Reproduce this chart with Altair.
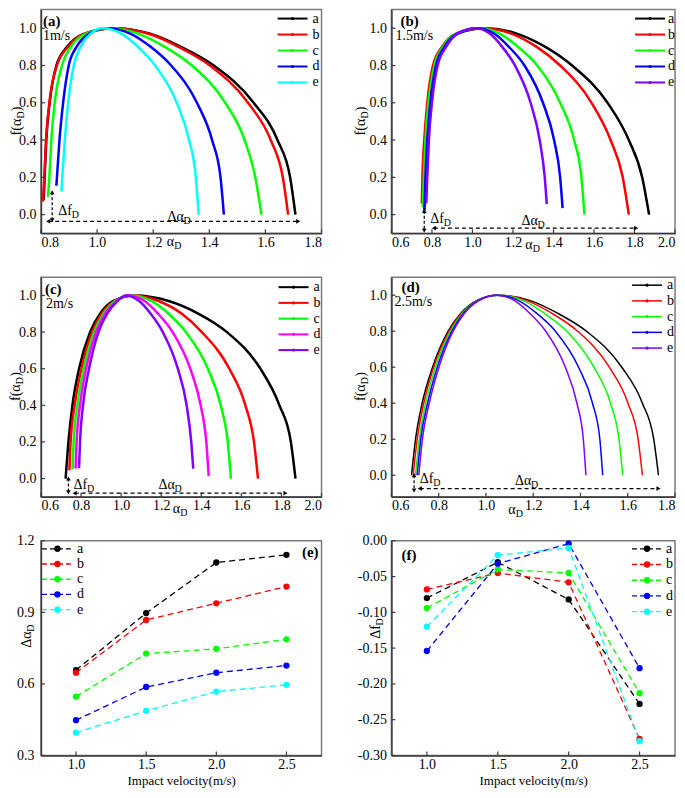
import altair as alt
import pandas as pd

FONT = "Liberation Serif, Times New Roman, serif"
AXC = "#3a3a3a"
SERIES = ["a", "b", "c", "d", "e"]

COLORS_A = ["#000000", "#ff0000", "#00ff00", "#0000ff", "#00ffff"]
COLORS_B = ["#000000", "#ff0000", "#00ff00", "#0000ff", "#8000ff"]
COLORS_C = ["#000000", "#ff0000", "#00ff00", "#ff00ff", "#8000ff"]
COLORS_D = ["#000000", "#ff0000", "#00ff00", "#0000ff", "#8000ff"]
COLORS_EF = ["#000000", "#ff0000", "#00ff00", "#0000ff", "#00ffff"]

X_TICKS_A = [0.8, 1.0, 1.2, 1.4, 1.6, 1.8]
X_TICKS_BC = [0.6, 0.8, 1.0, 1.2, 1.4, 1.6, 1.8, 2.0]
X_TICKS_D = [0.6, 0.8, 1.0, 1.2, 1.4, 1.6, 1.8]
Y_TICKS_SPEC = [0.0, 0.2, 0.4, 0.6, 0.8, 1.0]
VELOCITY = [1.0, 1.5, 2.0, 2.5]
Y_TICKS_E = [0.3, 0.6, 0.9, 1.2]
Y_TICKS_F = [-0.30, -0.25, -0.20, -0.15, -0.10, -0.05, 0.00]

# ---------------- (a) 1 m/s ----------------
PA_ALPHA_a = [0.810, 0.813, 0.819, 0.831, 0.855, 0.893, 0.953, 1.060, 1.189, 1.299, 1.416, 1.558, 1.643, 1.688, 1.707]
PA_F_a = [0.080, 0.20, 0.40, 0.60, 0.80, 0.90, 0.97, 1.00, 0.97, 0.90, 0.80, 0.60, 0.40, 0.20, 0.000]
PA_ALPHA_b = [0.807, 0.812, 0.818, 0.830, 0.857, 0.897, 0.955, 1.060, 1.184, 1.290, 1.402, 1.538, 1.619, 1.662, 1.681]
PA_F_b = [0.070, 0.20, 0.40, 0.60, 0.80, 0.90, 0.97, 1.00, 0.97, 0.90, 0.80, 0.60, 0.40, 0.20, 0.000]
PA_ALPHA_c = [0.825, 0.830, 0.837, 0.849, 0.875, 0.907, 0.959, 1.048, 1.148, 1.241, 1.338, 1.457, 1.526, 1.564, 1.586]
PA_F_c = [0.095, 0.20, 0.40, 0.60, 0.80, 0.90, 0.97, 1.00, 0.97, 0.90, 0.80, 0.60, 0.40, 0.20, 0.000]
PA_ALPHA_d = [0.855, 0.857, 0.866, 0.879, 0.899, 0.927, 0.971, 1.036, 1.120, 1.191, 1.264, 1.356, 1.410, 1.440, 1.452]
PA_F_d = [0.155, 0.20, 0.40, 0.60, 0.80, 0.90, 0.97, 1.00, 0.97, 0.90, 0.80, 0.60, 0.40, 0.20, 0.000]
PA_ALPHA_e = [0.873, 0.876, 0.885, 0.897, 0.917, 0.941, 0.977, 1.019, 1.088, 1.146, 1.207, 1.284, 1.328, 1.352, 1.362]
PA_F_e = [0.124, 0.20, 0.40, 0.60, 0.80, 0.90, 0.97, 1.00, 0.97, 0.90, 0.80, 0.60, 0.40, 0.20, 0.000]

# ---------------- (b) 1.5 m/s ----------------
PB_ALPHA_a = [0.762, 0.767, 0.773, 0.787, 0.815, 0.860, 0.925, 1.058, 1.222, 1.360, 1.492, 1.667, 1.772, 1.838, 1.872]
PB_F_a = [0.030, 0.20, 0.40, 0.60, 0.80, 0.90, 0.97, 1.00, 0.97, 0.90, 0.80, 0.60, 0.40, 0.20, 0.000]
PB_ALPHA_b = [0.750, 0.753, 0.762, 0.777, 0.805, 0.850, 0.917, 1.050, 1.195, 1.317, 1.433, 1.588, 1.682, 1.742, 1.772]
PB_F_b = [0.060, 0.20, 0.40, 0.60, 0.80, 0.90, 0.97, 1.00, 0.97, 0.90, 0.80, 0.60, 0.40, 0.20, 0.000]
PB_ALPHA_c = [0.755, 0.760, 0.768, 0.783, 0.812, 0.855, 0.917, 1.033, 1.137, 1.225, 1.320, 1.433, 1.502, 1.538, 1.553]
PB_F_c = [0.040, 0.20, 0.40, 0.60, 0.80, 0.90, 0.97, 1.00, 0.97, 0.90, 0.80, 0.60, 0.40, 0.20, 0.000]
PB_ALPHA_d = [0.763, 0.768, 0.777, 0.792, 0.820, 0.862, 0.922, 1.025, 1.108, 1.180, 1.257, 1.348, 1.403, 1.433, 1.445]
PB_F_d = [0.020, 0.20, 0.40, 0.60, 0.80, 0.90, 0.97, 1.00, 0.97, 0.90, 0.80, 0.60, 0.40, 0.20, 0.035]
PB_ALPHA_e = [0.772, 0.777, 0.785, 0.800, 0.828, 0.870, 0.925, 1.017, 1.087, 1.147, 1.210, 1.287, 1.332, 1.357, 1.367]
PB_F_e = [0.060, 0.20, 0.40, 0.60, 0.80, 0.90, 0.97, 1.00, 0.97, 0.90, 0.80, 0.60, 0.40, 0.20, 0.056]

# ---------------- (c) 2 m/s ----------------
PC_ALPHA_a = [0.723, 0.737, 0.757, 0.790, 0.845, 0.895, 0.962, 1.070, 1.237, 1.387, 1.528, 1.695, 1.790, 1.847, 1.870]
PC_F_a = [0.000, 0.20, 0.40, 0.60, 0.80, 0.90, 0.97, 1.00, 0.97, 0.90, 0.80, 0.60, 0.40, 0.20, 0.000]
PC_ALPHA_b = [0.742, 0.748, 0.768, 0.802, 0.855, 0.903, 0.967, 1.062, 1.187, 1.303, 1.403, 1.540, 1.620, 1.663, 1.683]
PC_F_b = [0.045, 0.20, 0.40, 0.60, 0.80, 0.90, 0.97, 1.00, 0.97, 0.90, 0.80, 0.60, 0.40, 0.20, 0.000]
PC_ALPHA_c = [0.758, 0.763, 0.782, 0.813, 0.865, 0.912, 0.972, 1.050, 1.150, 1.237, 1.323, 1.433, 1.497, 1.532, 1.548]
PC_F_c = [0.050, 0.20, 0.40, 0.60, 0.80, 0.90, 0.97, 1.00, 0.97, 0.90, 0.80, 0.60, 0.40, 0.20, 0.000]
PC_ALPHA_d = [0.773, 0.778, 0.795, 0.825, 0.875, 0.920, 0.977, 1.037, 1.117, 1.185, 1.257, 1.345, 1.397, 1.425, 1.437]
PC_F_d = [0.054, 0.20, 0.40, 0.60, 0.80, 0.90, 0.97, 1.00, 0.97, 0.90, 0.80, 0.60, 0.40, 0.20, 0.015]
PC_ALPHA_e = [0.790, 0.795, 0.810, 0.840, 0.887, 0.930, 0.982, 1.023, 1.090, 1.148, 1.208, 1.283, 1.327, 1.350, 1.360]
PC_F_e = [0.057, 0.20, 0.40, 0.60, 0.80, 0.90, 0.97, 1.00, 0.97, 0.90, 0.80, 0.60, 0.40, 0.20, 0.054]

# ---------------- (d) 2.5 m/s ----------------
PD_ALPHA_a = [0.685, 0.702, 0.730, 0.774, 0.840, 0.894, 0.960, 1.052, 1.188, 1.303, 1.425, 1.575, 1.662, 1.710, 1.730]
PD_F_a = [0.000, 0.20, 0.40, 0.60, 0.80, 0.90, 0.97, 1.00, 0.97, 0.90, 0.80, 0.60, 0.40, 0.20, 0.000]
PD_ALPHA_b = [0.692, 0.709, 0.737, 0.779, 0.844, 0.897, 0.963, 1.052, 1.173, 1.278, 1.388, 1.522, 1.601, 1.644, 1.662]
PD_F_b = [0.000, 0.20, 0.40, 0.60, 0.80, 0.90, 0.97, 1.00, 0.97, 0.90, 0.80, 0.60, 0.40, 0.20, 0.000]
PD_ALPHA_c = [0.702, 0.718, 0.745, 0.786, 0.850, 0.901, 0.964, 1.052, 1.158, 1.247, 1.342, 1.457, 1.527, 1.563, 1.579]
PD_F_c = [0.000, 0.20, 0.40, 0.60, 0.80, 0.90, 0.97, 1.00, 0.97, 0.90, 0.80, 0.60, 0.40, 0.20, 0.000]
PD_ALPHA_d = [0.709, 0.724, 0.753, 0.794, 0.856, 0.905, 0.967, 1.049, 1.138, 1.214, 1.294, 1.392, 1.451, 1.482, 1.494]
PD_F_d = [0.000, 0.20, 0.40, 0.60, 0.80, 0.90, 0.97, 1.00, 0.97, 0.90, 0.80, 0.60, 0.40, 0.20, 0.000]
PD_ALPHA_e = [0.716, 0.731, 0.760, 0.801, 0.861, 0.909, 0.970, 1.045, 1.121, 1.185, 1.253, 1.336, 1.385, 1.412, 1.423]
PD_F_e = [0.000, 0.20, 0.40, 0.60, 0.80, 0.90, 0.97, 1.00, 0.97, 0.90, 0.80, 0.60, 0.40, 0.20, 0.000]

# ---------------- (e) delta alpha vs velocity ----------------
DALPHA_a = [0.658, 0.897, 1.109, 1.141]
DALPHA_b = [0.647, 0.868, 0.938, 1.008]
DALPHA_c = [0.547, 0.727, 0.747, 0.787]
DALPHA_d = [0.448, 0.587, 0.647, 0.677]
DALPHA_e = [0.396, 0.487, 0.568, 0.596]

# ---------------- (f) delta f vs velocity ----------------
DF_a = [-0.080, -0.030, -0.082, -0.228]
DF_b = [-0.068, -0.045, -0.058, -0.277]
DF_c = [-0.094, -0.040, -0.045, -0.213]
DF_d = [-0.154, -0.032, -0.004, -0.178]
DF_e = [-0.120, -0.020, -0.010, -0.280]

ONE = pd.DataFrame({"k": [0]})


def long_df(alpha_lists, f_lists):
    rows = []
    for s, al, fl in zip(SERIES, alpha_lists, f_lists):
        for i, (a, f) in enumerate(zip(al, fl)):
            rows.append({"series": s, "alpha": a, "f": f, "i": i})
    return pd.DataFrame(rows)


def ptext(x, y, text, size=14, align="left", weight="normal", angle=0, dx=0, dy=0):
    kw = dict(text=text, font=FONT, fontSize=size, align=align, baseline="middle",
              fontWeight=weight, color="black", dx=dx, dy=dy)
    if angle:
        kw["angle"] = angle
    return alt.Chart(ONE).mark_text(**kw).encode(x=alt.value(x), y=alt.value(y))


def sub_title_h(x, y, main, sub, sub_dx):
    return [ptext(x, y, main), ptext(x, y, sub, size=10, dx=sub_dx, dy=4)]


def sub_title_v(x, y, parts):
    return [ptext(x, y, t, size=s, angle=270, dx=dx, dy=dy) for (t, s, dx, dy) in parts]


def dtext(xv, yv, main, sub, sub_dx, xs, ys):
    d = pd.DataFrame({"x": [xv], "y": [yv]})
    base = alt.Chart(d).encode(x=alt.X("x:Q", scale=xs, axis=None),
                               y=alt.Y("y:Q", scale=ys, axis=None))
    m = base.mark_text(text=main, font=FONT, fontSize=14, align="left",
                       baseline="middle", color="black")
    s = base.mark_text(text=sub, font=FONT, fontSize=10, align="left",
                       baseline="middle", dx=sub_dx, dy=4, color="black")
    return [m, s]


def inward_ticks(xticks, yticks, xs, ys, H):
    xt = alt.Chart(pd.DataFrame({"v": xticks})).mark_rule(color=AXC, strokeWidth=1.2).encode(
        x=alt.X("v:Q", scale=xs, axis=None), y=alt.value(H), y2=alt.value(H - 4))
    yt = alt.Chart(pd.DataFrame({"v": yticks})).mark_rule(color=AXC, strokeWidth=1.2).encode(
        y=alt.Y("v:Q", scale=ys, axis=None), x=alt.value(0), x2=alt.value(4))
    return [xt, yt]


def arrow_layers(h, v, xs, ys):
    hd = pd.DataFrame({"x0": [h[0]], "x1": [h[1]], "y": [h[2]]})
    hr = alt.Chart(hd).mark_rule(color="black", strokeWidth=1.2, strokeDash=[4, 3]).encode(
        x=alt.X("x0:Q", scale=xs, axis=None), x2="x1:Q", y=alt.Y("y:Q", scale=ys, axis=None))
    vd = pd.DataFrame({"x": [v[0]], "y0": [v[1]], "y1": [v[2]]})
    vr = alt.Chart(vd).mark_rule(color="black", strokeWidth=1.2, strokeDash=[3, 2]).encode(
        x=alt.X("x:Q", scale=xs, axis=None), y=alt.Y("y0:Q", scale=ys, axis=None), y2="y1:Q")
    heads = pd.DataFrame({
        "x": [h[0], h[1], v[0], v[0]],
        "y": [h[2], h[2], v[1], v[2]],
        "shape": ["triangle-left", "triangle-right", "triangle-up", "triangle-down"],
    })
    hp = alt.Chart(heads).mark_point(filled=True, size=22, color="black", opacity=1).encode(
        x=alt.X("x:Q", scale=xs, axis=None), y=alt.Y("y:Q", scale=ys, axis=None),
        shape=alt.Shape("shape:N", scale=None))
    return [hr, vr, hp]


def legend_layers(colors, x1, x2, xt, yr, lw=2.0, dashed=False, dot_size=10):
    d = pd.DataFrame({"series": SERIES})
    yenc = alt.Y("series:N", scale=alt.Scale(type="point", domain=SERIES, range=yr, padding=0), axis=None)
    col = alt.Color("series:N", scale=alt.Scale(domain=SERIES, range=colors), legend=None)
    rkw = dict(strokeWidth=lw)
    if dashed:
        rkw["strokeDash"] = [5, 3]
    rule = alt.Chart(d).mark_rule(**rkw).encode(x=alt.value(x1), x2=alt.value(x2), y=yenc, color=col)
    dot = alt.Chart(d).mark_circle(size=dot_size, opacity=1).encode(
        x=alt.value((x1 + x2) / 2), y=yenc, color=col)
    txt = alt.Chart(d).mark_text(font=FONT, fontSize=14, align="left", baseline="middle",
                                 color="black").encode(x=alt.value(xt), y=yenc, text="series:N")
    return [rule, dot, txt]


def spectrum_panel(p):
    W, H = p["W"], p["H"]
    xs = alt.Scale(domain=p["xdom"], nice=False, zero=False)
    ys = alt.Scale(domain=p["ydom"], nice=False, zero=False)
    df = long_df(p["alphas"], p["fs"])
    col = alt.Color("series:N", scale=alt.Scale(domain=SERIES, range=p["colors"]), legend=None)
    lines = alt.Chart(df).mark_line(interpolate="monotone", strokeWidth=p["lw"]).encode(
        x=alt.X("alpha:Q", scale=xs,
                axis=alt.Axis(values=p["xticks"], format=".1f", labelPadding=2, title=None)),
        y=alt.Y("f:Q", scale=ys,
                axis=alt.Axis(values=Y_TICKS_SPEC, format=".1f", labelPadding=5, title=None)),
        color=col, order=alt.Order("i:Q"))
    layers = [lines]
    layers += inward_ticks(p["xticks"], Y_TICKS_SPEC, xs, ys, H)
    layers += arrow_layers(p["harrow"], p["varrow"], xs, ys)
    layers += dtext(p["df_txt"][0], p["df_txt"][1], "Δf", "D", 13.5, xs, ys)
    layers += dtext(p["da_txt"][0], p["da_txt"][1], "Δα", "D", 16, xs, ys)
    layers += legend_layers(p["colors"], W + p["leg"][0], W + p["leg"][1], W + p["leg"][2],
                            p["leg_rows"], lw=p["leg_lw"])
    layers.append(ptext(p["tag_pos"][0], p["tag_pos"][1], p["tag"], size=15, weight="bold"))
    layers.append(ptext(p["speed_pos"][0], p["speed_pos"][1], p["speed"], size=14))
    layers += sub_title_v(p["ytitle_x"], H / 2,
                          [("f(α", 14, -14, 0), ("D", 10, 2.8, 4), (")", 14, 10.2, 0)])
    layers += sub_title_h(p["xtitle"][0], H + p["xtitle"][1], "α", "D", 7.5)
    return alt.layer(*layers).resolve_scale(
        x="independent", y="independent").properties(width=W, height=H)


def velocity_panel(p):
    W, H = p["W"], p["H"]
    rows = []
    for s, vals in zip(SERIES, p["values"]):
        for i, (v, val) in enumerate(zip(VELOCITY, vals)):
            rows.append({"series": s, "v": v, "val": val, "i": i})
    df = pd.DataFrame(rows)
    xs = alt.Scale(domain=[0.75, 2.75], nice=False, zero=False)
    ys = alt.Scale(domain=p["ydom"], nice=False, zero=False)
    col = alt.Color("series:N", scale=alt.Scale(domain=SERIES, range=COLORS_EF), legend=None)
    line = alt.Chart(df).mark_line(strokeDash=[6, 4], strokeWidth=1.3).encode(
        x=alt.X("v:Q", scale=xs,
                axis=alt.Axis(values=VELOCITY, format=".1f", labelPadding=2,
                              title="Impact velocity(m/s)", titlePadding=3)),
        y=alt.Y("val:Q", scale=ys,
                axis=alt.Axis(values=p["yticks"], labelExpr=p["labelExpr"],
                              labelPadding=p["ylabpad"], title=None)),
        color=col, order=alt.Order("i:Q"))
    pts = alt.Chart(df).mark_circle(size=40, opacity=1).encode(
        x=alt.X("v:Q", scale=xs, axis=None), y=alt.Y("val:Q", scale=ys, axis=None), color=col)
    layers = [line, pts]
    layers += inward_ticks(VELOCITY, p["yticks"], xs, ys, H)
    lg = p["leg"]
    layers += legend_layers(COLORS_EF, lg[0], lg[1], lg[2], p["leg_rows"], lw=1.3,
                            dashed=True, dot_size=40)
    layers.append(ptext(p["tag_pos"][0], p["tag_pos"][1], p["tag"], size=15,
                        weight="bold", align=p["tag_align"]))
    layers += sub_title_v(p["ytitle_x"], H * p["ytitle_frac"], p["yparts"])
    return alt.layer(*layers).resolve_scale(
        x="independent", y="independent").properties(width=W, height=H)


W_L, W_R = 281, 284
H1, H2, H3 = 224, 220, 215

pa = spectrum_panel(dict(
    W=W_L, H=H1, xdom=[0.8, 1.8], ydom=[-0.1, 1.1], xticks=X_TICKS_A, colors=COLORS_A, lw=2.5,
    alphas=[PA_ALPHA_a, PA_ALPHA_b, PA_ALPHA_c, PA_ALPHA_d, PA_ALPHA_e],
    fs=[PA_F_a, PA_F_b, PA_F_c, PA_F_d, PA_F_e],
    harrow=(0.826, 1.717, -0.036), varrow=(0.840, 0.12, -0.03),
    df_txt=(0.862, 0.02), da_txt=(1.251, -0.012),
    leg=(-44, -14, -9), leg_rows=[9, 73], leg_lw=2.0,
    tag="(a)", tag_pos=(2, 11), speed="1m/s", speed_pos=(2, 26),
    ytitle_x=-24, xtitle=(126, 9)))

pb = spectrum_panel(dict(
    W=W_R, H=H1, xdom=[0.6, 2.0], ydom=[-0.1, 1.1], xticks=X_TICKS_BC, colors=COLORS_B, lw=2.5,
    alphas=[PB_ALPHA_a, PB_ALPHA_b, PB_ALPHA_c, PB_ALPHA_d, PB_ALPHA_e],
    fs=[PB_F_a, PB_F_b, PB_F_c, PB_F_d, PB_F_e],
    harrow=(0.81, 1.808, -0.073), varrow=(0.762, 0.02, -0.085),
    df_txt=(0.792, -0.026), da_txt=(1.242, -0.035),
    leg=(-40, -10, -7), leg_rows=[9, 73], leg_lw=2.0,
    tag="(b)", tag_pos=(9, 11), speed="1.5m/s", speed_pos=(4, 26),
    ytitle_x=-30, xtitle=(134, 12)))

pc = spectrum_panel(dict(
    W=W_L, H=H2, xdom=[0.6, 2.0], ydom=[-0.1, 1.1], xticks=X_TICKS_BC, colors=COLORS_C, lw=2.5,
    alphas=[PC_ALPHA_a, PC_ALPHA_b, PC_ALPHA_c, PC_ALPHA_d, PC_ALPHA_e],
    fs=[PC_F_a, PC_F_b, PC_F_c, PC_F_d, PC_F_e],
    harrow=(0.768, 1.82, -0.08), varrow=(0.737, 0.0, -0.075),
    df_txt=(0.762, -0.036), da_txt=(1.187, -0.036),
    leg=(-43, -13, -8), leg_rows=[10, 73], leg_lw=2.0,
    tag="(c)", tag_pos=(4, 12), speed="2m/s", speed_pos=(5, 27),
    ytitle_x=-25, xtitle=(132, 12)))

pd_ = spectrum_panel(dict(
    W=W_R, H=H2, xdom=[0.6, 1.8], ydom=[-0.12, 1.1], xticks=X_TICKS_D, colors=COLORS_D, lw=1.5,
    alphas=[PD_ALPHA_a, PD_ALPHA_b, PD_ALPHA_c, PD_ALPHA_d, PD_ALPHA_e],
    fs=[PD_F_a, PD_F_b, PD_F_c, PD_F_d, PD_F_e],
    harrow=(0.72, 1.73, -0.074), varrow=(0.696, 0.0, -0.085),
    df_txt=(0.72, -0.021), da_txt=(1.123, -0.03),
    leg=(-43, -13, -8), leg_rows=[8, 71], leg_lw=1.5,
    tag="(d)", tag_pos=(10, 10), speed="2.5m/s", speed_pos=(3, 25),
    ytitle_x=-30, xtitle=(117, 13)))

pe = velocity_panel(dict(
    W=W_L, H=H3, ydom=[0.3, 1.2], yticks=Y_TICKS_E,
    values=[DALPHA_a, DALPHA_b, DALPHA_c, DALPHA_d, DALPHA_e],
    labelExpr="format(datum.value, '.1f')", ylabpad=7,
    leg=(1, 32, 36), leg_rows=[8, 69],
    tag="(e)", tag_pos=(W_L - 3, 11), tag_align="right",
    ytitle_x=-14, ytitle_frac=0.445,
    yparts=[("Δα", 14, -11.5, 0), ("D", 10, 4.5, 4)]))

pf = velocity_panel(dict(
    W=W_R, H=H3, ydom=[-0.30, 0.0], yticks=Y_TICKS_F,
    values=[DF_a, DF_b, DF_c, DF_d, DF_e],
    labelExpr="replace(format(datum.value, '.2f'), '\u2212', '-')", ylabpad=5,
    leg=(W_R - 43, W_R - 13, W_R - 9), leg_rows=[8, 71],
    tag="(f)", tag_pos=(10, 14), tag_align="left",
    ytitle_x=-15, ytitle_frac=0.41,
    yparts=[("Δf", 14, -10, 0), ("D", 10, 3.4, 4)]))

chart = alt.concat(
    pa, pb, pc, pd_, pe, pf,
    columns=2, spacing={"row": 44, "column": 70}, bounds="flush", align="each",
).resolve_scale(
    color="independent", x="independent", y="independent"
).properties(
    padding={"left": 0, "top": 0, "right": 0, "bottom": 0}
).configure_view(
    stroke="#7a7a7a", strokeWidth=1.5
).configure_axis(
    labelFont=FONT, labelFontSize=14, labelColor="black",
    domainColor=AXC, domainWidth=1.5, grid=False, ticks=False,
    titleFont=FONT, titleFontSize=13, titleFontWeight="normal", titleColor="black",
)

chart.save("out.html", embed_options={"renderer": "svg", "actions": False})
